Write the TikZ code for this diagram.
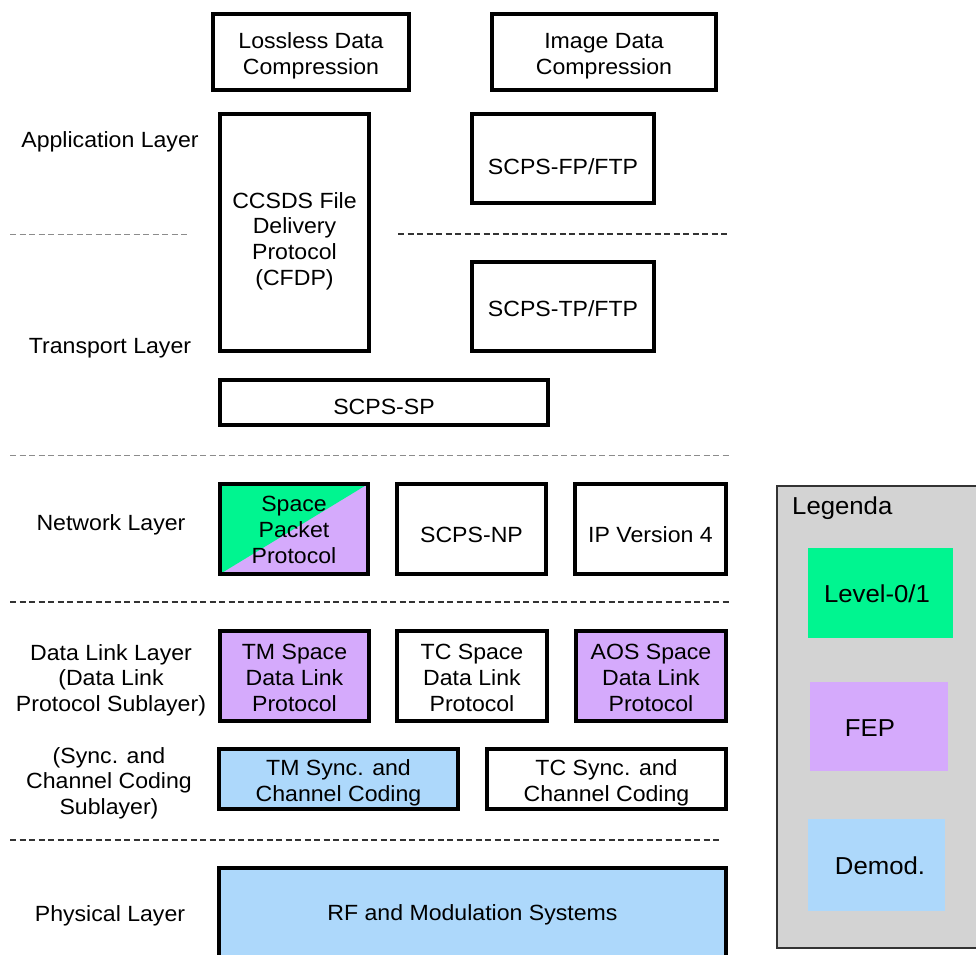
\documentclass[tikz,border=0pt]{standalone}
\usepackage{fontspec}
\setmainfont[FakeStretch=1.05]{Liberation Sans}
\definecolor{lvlgreen}{RGB}{0,245,144}
\definecolor{feppurple}{RGB}{213,170,252}
\definecolor{demodblue}{RGB}{173,216,251}
\definecolor{leggray}{RGB}{211,211,211}
\begin{document}
\begin{tikzpicture}[x=1pt,y=-1pt,
  box/.style={draw=black, line width=3.2pt, inner sep=0pt},
  txt/.style={align=center, inner sep=0pt, font=\fontsize{22}{25.8}\selectfont},
  lbl/.style={align=center, inner sep=0pt, font=\fontsize{22}{25.5}\selectfont},
  sep/.style={dash pattern=on 6pt off 3.5pt, line width=1.4pt, draw=black!80},
  sepl/.style={dash pattern=on 6pt off 3.5pt, line width=1pt, draw=black!45},
  legbox/.style={draw=none, inner sep=0pt},
  legtxt/.style={inner sep=0pt, font=\fontsize{24.5}{28}\selectfont}]
\useasboundingbox (0,0) rectangle (976,954);
\clip (0,0) rectangle (976,954);

% separators
\draw[sepl] (10,234) -- (190,234);
\draw[sep] (398,234) -- (728,234);
\draw[sepl] (10,455) -- (730,455);
\draw[sep] (10,602) -- (730,602);
\draw[sep] (10,840) -- (722,840);

% layer labels
\node[lbl] (lapp) at (110,142) {Application Layer};
\node[lbl] (ltrans) at (110,348) {Transport Layer};
\node[lbl] (lnet) at (111,525) {Network Layer};
\node[lbl] (ldl) at (111,680) {Data Link Layer\\(Data Link\\Protocol Sublayer)};
\node[lbl] (lsync) at (109,783) {(Sync. and\\Channel Coding\\Sublayer)};
\node[lbl] (lphys) at (110,916) {Physical Layer};

% application / transport
\node[box, minimum width=196pt, minimum height=76pt] (ldc) at (311,52) {};
\node[txt] (ldct) at (311,56) {Lossless Data\\Compression};
\node[box, minimum width=224pt, minimum height=76pt] (idc) at (604,52) {};
\node[txt] (idct) at (604,56) {Image Data\\Compression};
\node[box, minimum width=149pt, minimum height=237pt] (cfdp) at (294.5,232.5) {};
\node[txt] (cfdpt) at (294.5,241) {CCSDS File\\Delivery\\Protocol\\(CFDP)};
\node[box, minimum width=182pt, minimum height=89pt] (fp) at (563,158.5) {};
\node[txt] (fpt) at (563,166.5) {SCPS-FP/FTP};
\node[box, minimum width=182pt, minimum height=89pt] (tp) at (563,306.5) {};
\node[txt] (tpt) at (563,309) {SCPS-TP/FTP};
\node[box, minimum width=328pt, minimum height=45pt] (sp) at (384,402.5) {};
\node[txt] (spt) at (384,407) {SCPS-SP};

% network
\node[box, fill=feppurple, minimum width=148pt, minimum height=90pt,
  path picture={\fill[lvlgreen] (path picture bounding box.north west) -- (path picture bounding box.north east) -- (path picture bounding box.south west) -- cycle;}]
  (spp) at (294,529) {};
\node[txt] (sppt) at (294,530) {Space\\Packet\\Protocol};
\node[box, minimum width=149pt, minimum height=90pt] (np) at (471.5,529) {};
\node[txt] (npt) at (471.5,535) {SCPS-NP};
\node[box, minimum width=151pt, minimum height=90pt] (ip) at (650.5,529) {};
\node[txt] (ipt) at (650.5,535) {IP Version 4};

% data link
\node[box, fill=feppurple, minimum width=149pt, minimum height=90pt] (tmdl) at (294.5,676) {};
\node[txt] (tmdlt) at (294.5,678) {TM Space\\Data Link\\Protocol};
\node[box, minimum width=150pt, minimum height=90pt] (tcdl) at (472,676) {};
\node[txt] (tcdlt) at (472,678) {TC Space\\Data Link\\Protocol};
\node[box, fill=feppurple, minimum width=150pt, minimum height=90pt] (aosdl) at (651,676) {};
\node[txt] (aosdlt) at (651,678) {AOS Space\\Data Link\\Protocol};

% sync
\node[box, fill=demodblue, minimum width=239pt, minimum height=60pt] (tmsync) at (338.5,779) {};
\node[txt] (tmsynct) at (338.5,783) {TM Sync. and\\Channel Coding};
\node[box, minimum width=239pt, minimum height=60pt] (tcsync) at (606.5,779) {};
\node[txt] (tcsynct) at (606.5,783) {TC Sync. and\\Channel Coding};

% physical
\node[box, fill=demodblue, minimum width=507pt, minimum height=100pt] (rf) at (472.5,918) {};
\node[txt] (rft) at (472.5,915) {RF and Modulation Systems};

% legend
\node[draw=black!80, line width=1.8pt, fill=leggray, minimum width=220pt, minimum height=462pt, inner sep=0pt] (leg) at (887,717) {};
\node[anchor=west, legtxt] (legt) at (792,508) {Legenda};
\node[legbox, fill=lvlgreen, minimum width=145pt, minimum height=90pt] (l0) at (880.5,593) {};
\node[legtxt] (l0t) at (877,594) {Level-0/1};
\node[legbox, fill=feppurple, minimum width=138pt, minimum height=89pt] (lfep) at (879,726.5) {};
\node[legtxt] (lfept) at (870,728) {FEP};
\node[legbox, fill=demodblue, minimum width=137pt, minimum height=92pt] (ldem) at (876.5,865) {};
\node[legtxt] (ldemt) at (880,866) {Demod.};
\end{tikzpicture}
\end{document}
